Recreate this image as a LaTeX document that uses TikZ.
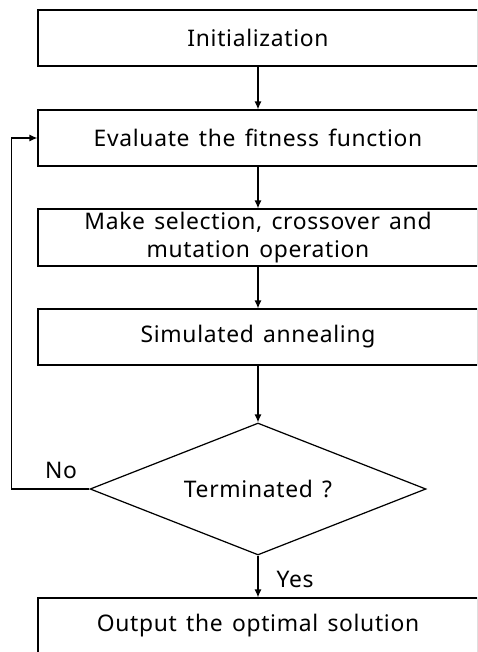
\documentclass[tikz,border=0pt]{standalone}
\usepackage{fontspec}
\setmainfont{Noto Sans}[LetterSpace=3, WordSpace=1.4]
\usetikzlibrary{shapes.geometric,arrows.meta}

\begin{document}
\begin{tikzpicture}[x=0.02cm, y=-0.02cm, line width=0.7pt,
    box/.style = {rectangle, draw, minimum width=8.8cm, minimum height=1.12cm,
        inner sep=0pt, align=center, font=\fontsize{13}{16}\selectfont},
    test/.style = {diamond, draw, aspect=2.55, minimum width=6.72cm, minimum height=2.64cm,
        inner sep=0pt, font=\fontsize{13}{16}\selectfont},
    arrow/.style = {-{Latex[length=1.6mm,width=1.4mm]}},
    lbl/.style = {font=\fontsize{13}{16}\selectfont}]

\useasboundingbox (0,0) rectangle (477,652);
\clip (0,0) rectangle (477,652);

% Steps
\node[box] (init) at (258,38) {Initialization};
\node[box] (eval) at (258,138) {Evaluate the fitness function};
\node[box, minimum height=1.14cm] (oper) at (258,237.5) {Make selection, crossover and\\ mutation operation};
\node[box] (anneal) at (258,337) {Simulated annealing};

% Decision
\node[test] (term) at (258,489) {Terminated ?};

% Output
\node[box] (output) at (258,626) {Output the optimal solution};

% Arrows
\draw[arrow] (init) -- (eval);
\draw[arrow] (eval) -- (oper);
\draw[arrow] (oper) -- (anneal);
\draw[arrow] (anneal) -- (term);
\draw[arrow] (term) -- (output);

% Loop back
\draw[arrow] (term.west) -- ++(-78,0) |- (eval.west);

% Labels
\node[lbl] (no) at (61,470) {No};
\node[lbl] (yes) at (295,579) {Yes};

\end{tikzpicture}
\end{document}
